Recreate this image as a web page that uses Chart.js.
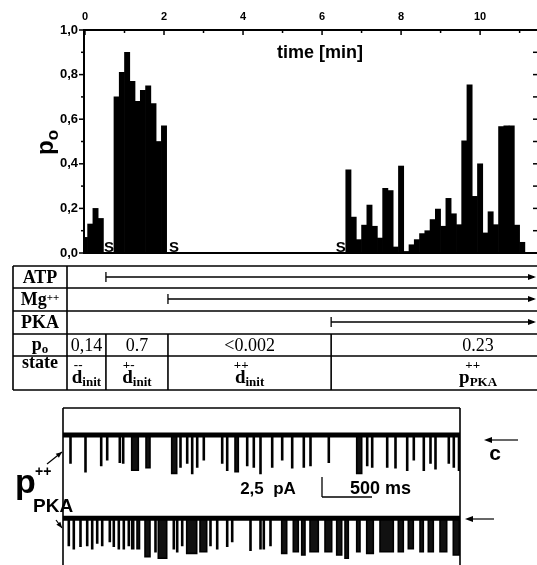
<!DOCTYPE html>
<html><head><meta charset="utf-8">
<script src="https://cdn.jsdelivr.net/npm/chart.js@4.4.0/dist/chart.umd.min.js"></script>
<style>
html,body{margin:0;padding:0;background:#fff;width:537px;height:565px;overflow:hidden;}
canvas{position:absolute;left:0;display:block;}
#c1{top:0;} #c2{top:400px;}
</style></head><body>
<canvas id="c1" width="537" height="400"></canvas>
<canvas id="c2" width="537" height="165"></canvas>
<script>
// ---------- data ----------
const binMinutes = 8 / 60;               // width of one analysis bin (8 s)
const poValues = [
  0.07, 0.13, 0.20, 0.155, 0, 0,
  0.70, 0.81, 0.90, 0.77, 0.68, 0.73, 0.75, 0.67, 0.50, 0.57,
  0,0,0,0,0,0,0,0,0,0, 0,0,0,0,0,0,0,0,0,0, 0,0,0,0,0,0,0,0,0,0, 0,0,0,0,
  0.373, 0.161, 0.06, 0.125, 0.215, 0.12, 0.067, 0.29, 0.28, 0.027,
  0.39, 0.007, 0.037, 0.06, 0.087, 0.10, 0.15, 0.197, 0.12, 0.245,
  0.176, 0.127, 0.503, 0.754, 0.254, 0.40, 0.09, 0.185, 0.127, 0.567,
  0.57, 0.57, 0.125, 0.048
];
const timeTickLabels = [0, 2, 4, 6, 8, 10];
const yTickLabels = ['0,0', '0,2', '0,4', '0,6', '0,8', '1,0'];
const solutionMarks = [0.61, 2.25, 6.47];          // "S" marks (min)
const additionNames = ['ATP', 'Mg', 'PKA'];
const additionTimes = [0.53, 2.10, 6.23];          // arrows start (min)
const poTableValues = ['0,14', '0.7', '<0.002', '0.23'];
const stateBase = ['d', 'd', 'd', 'p'];
const stateSup = ['--', '+-', '++', '++'];
const stateSub = ['init', 'init', 'init', 'PKA'];

// single-channel traces: event start (ms), duration (ms), depth (pA)
const trace1Start = [70,220,377,437,563,597,687,830,1087,1170,1237,1287,1337,1403,1587,1637,1720,1837,1903,1970,2087,2187,2287,2403,2470,2653,2937,3037,3087,3237,3320,3437,3503,3603,3670,3720,3853,3903,3955];
const trace1Dur = [10,10,10,10,10,10,66,40,50,10, 10,10,10,10,10,10,33,10,10,10, 10,10,10,10,10,10,50,10,10,10, 10,10,10,10,10,10,10,10,10];
const trace1Depth = [3.5,4.6,3.8,3.1,3.4,3.5,4.4,4.1,4.8,4.0, 3.5,4.8,4.0,3.1,3.5,4.4,4.6,3.8,4.0,4.8, 4.0,3.1,4.1,4.0,3.8,3.4,4.8,3.8,4.0,4.0, 4.1,4.4,3.1,4.4,3.5,4.2,3.5,4.0,4.4];
const trace2Start = [53,103,170,237,287,337,387,463,503,553,603,653,687,740,820,920,953,1103,1137,1187,1237,1370,1470,1537,1637,1687,1870,1970,2003,2070,2187,2303,2387,2470,2620,2737,2820,2937,3037,3170,3353,3453,3570,3653,3770,3903];
const trace2Dur = [10,10,10,10,10,10,10,10,10,10, 10,10,20,25,50,10,84,10,10,10, 100,67,10,10,10,10,10,10,10,10, 50,50,33,83,67,50,33,33,66,133, 50,50,33,50,67,60];
const trace2Depth = [3.4,3.8,3.5,3.4,3.8,3.1,3.4,2.9,3.5,3.8, 3.8,3.4,3.8,3.8,4.8,4.2,5.0,3.8,4.2,3.4, 4.4,4.2,3.4,3.8,3.5,2.9,4.0,3.8,3.8,3.4, 4.4,4.2,4.6,4.2,4.2,4.6,5.0,4.2,4.4,4.2, 4.2,3.8,4.2,4.2,4.2,4.6];
const traceEnd = 3970;
const trace2Offset = -10.4;
const scaleBarMs = 500, scaleBarPA = 2.5;

// ---------- helpers ----------
const SANS = 'Liberation Sans', SERIF = 'Liberation Serif';
function ln(ctx, x1, y1, x2, y2) { ctx.beginPath(); ctx.moveTo(x1, y1); ctx.lineTo(x2, y2); ctx.stroke(); }
function arrowHead(ctx, x, y, dir, len, half) {
  ctx.beginPath(); ctx.moveTo(x, y); ctx.lineTo(x - dir * len, y - half); ctx.lineTo(x - dir * len, y + half); ctx.closePath(); ctx.fill();
}
function arrowTo(ctx, x1, y1, x2, y2, len, half) {
  ln(ctx, x1, y1, x2, y2);
  const a = Math.atan2(y2 - y1, x2 - x1);
  ctx.beginPath(); ctx.moveTo(x2, y2);
  ctx.lineTo(x2 - len * Math.cos(a) + half * Math.sin(a), y2 - len * Math.sin(a) - half * Math.cos(a));
  ctx.lineTo(x2 - len * Math.cos(a) - half * Math.sin(a), y2 - len * Math.sin(a) + half * Math.cos(a));
  ctx.closePath(); ctx.fill();
}
function text(ctx, s, x, y, font, align, base) {
  ctx.font = font; ctx.textAlign = align || 'center'; ctx.textBaseline = base || 'alphabetic'; ctx.fillText(s, x, y);
}

// ---------- chart 1: p_o histogram + table ----------
const decor1 = {
  id: 'decor1',
  afterDraw(chart) {
    const { ctx, chartArea: a, scales: { x, y } } = chart;
    ctx.save();
    ctx.strokeStyle = '#000'; ctx.fillStyle = '#000';
    // axes
    ctx.lineWidth = 2;
    ln(ctx, a.left, a.top - 1, a.left, a.bottom + 1);
    ln(ctx, a.left, a.top, a.right, a.top);
    ln(ctx, a.left, y.getPixelForValue(0), a.right, y.getPixelForValue(0));
    // y ticks
    ctx.lineWidth = 1.5;
    for (let i = 0; i <= 10; i++) {
      const py = y.getPixelForValue(i / 10);
      ln(ctx, a.left - (i % 2 === 0 ? 5 : 3), py, a.left, py);
      if (i > 0 && i < 10) ln(ctx, a.right - 4, py, a.right, py);
    }
    // x ticks (top, inward)
    for (let t = 0; t <= 11; t++) {
      const px = x.getPixelForValue(t);
      ln(ctx, px, a.top, px, a.top + (t % 2 === 0 ? 5 : 3));
    }
    // S marks
    solutionMarks.forEach(t => text(ctx, 'S', x.getPixelForValue(t), y.getPixelForValue(0) - 1, 'bold 15px ' + SANS, 'center', 'alphabetic'));
    // time label
    text(ctx, 'time [min]', 277, 58, 'bold 18px ' + SANS, 'left', 'alphabetic');
    // y title p_o
    ctx.save();
    ctx.translate(53, 143);
    ctx.rotate(-Math.PI / 2);
    ctx.font = 'bold 24px ' + SANS; ctx.textAlign = 'left'; ctx.textBaseline = 'alphabetic';
    const pw = ctx.measureText('p').width;
    ctx.fillText('p', -12, 0);
    ctx.font = 'bold 17px ' + SANS;
    ctx.fillText('o', -12 + pw, 5);
    ctx.restore();

    // ---- table ----
    const L = 13, C1 = 67, R = 537;
    const rows = [266, 288, 311, 334, 356, 390];
    ctx.lineWidth = 1.6;
    rows.forEach(ry => ln(ctx, L, ry, R, ry));
    ln(ctx, L, rows[0], L, rows[5]);
    ln(ctx, C1, rows[0], C1, rows[5]);
    const colX = additionTimes.map(t => x.getPixelForValue(t));
    colX.forEach(cx => ln(ctx, cx, rows[3], cx, rows[5]));
    // labels column
    const lc = (L + C1) / 2;
    text(ctx, 'ATP', lc, 283, 'bold 18px ' + SERIF);
    ctx.font = 'bold 18px ' + SERIF; const mgw = ctx.measureText('Mg').width;
    ctx.font = 'bold 11px ' + SERIF; const ppw = ctx.measureText('++').width;
    text(ctx, 'Mg', lc - (mgw + ppw) / 2, 305, 'bold 18px ' + SERIF, 'left');
    text(ctx, '++', lc - (mgw + ppw) / 2 + mgw, 301, 'bold 11px ' + SERIF, 'left');
    text(ctx, 'PKA', lc, 328, 'bold 18px ' + SERIF);
    ctx.font = 'bold 18px ' + SERIF; const pW = ctx.measureText('p').width;
    ctx.font = 'bold 13px ' + SERIF; const oW = ctx.measureText('o').width;
    text(ctx, 'p', lc - (pW + oW) / 2, 350, 'bold 18px ' + SERIF, 'left');
    text(ctx, 'o', lc - (pW + oW) / 2 + pW, 353, 'bold 13px ' + SERIF, 'left');
    text(ctx, 'state', lc, 368, 'bold 18px ' + SERIF);
    // arrows
    const arrowY = [277, 299, 322];
    ctx.lineWidth = 1.3;
    colX.forEach((cx, i) => {
      ln(ctx, cx, arrowY[i], R - 3, arrowY[i]);
      ln(ctx, cx, arrowY[i] - 5, cx, arrowY[i] + 5);
      arrowHead(ctx, R - 1, arrowY[i], 1, 8, 3);
    });
    // p_o values and states
    const cellL = [C1, colX[0], colX[1], colX[2]];
    const cellR = [colX[0], colX[1], colX[2], 625];
    poTableValues.forEach((v, i) => {
      const cx = (cellL[i] + cellR[i]) / 2;
      text(ctx, v, cx, 351, '18px ' + SERIF);
      ctx.font = 'bold 19px ' + SERIF; const bw = ctx.measureText(stateBase[i]).width;
      ctx.font = 'bold 13px ' + SERIF; const sw = ctx.measureText(stateSub[i]).width;
      const x0 = cx - (bw + sw) / 2;
      text(ctx, stateBase[i], x0, 383, 'bold 19px ' + SERIF, 'left');
      text(ctx, stateSub[i], x0 + bw, 386, 'bold 13px ' + SERIF, 'left');
      const supC = stateBase[i] === 'p' ? x0 + bw + 3 : x0 + bw * 0.6;
      text(ctx, stateSup[i], supC, 366, 'bold 13px ' + SERIF, 'center', 'middle');
    });
    ctx.restore();
  }
};

new Chart(document.getElementById('c1'), {
  type: 'bar',
  data: {
    datasets: [{
      data: poValues.map((v, i) => ({ x: i * binMinutes, y: v })),
      backgroundColor: '#000', borderWidth: 0,
      categoryPercentage: 1, barPercentage: 1
    }]
  },
  options: {
    responsive: false, animation: false,
    layout: { padding: { left: 0, right: 0, top: 0, bottom: 147 } },
    plugins: { legend: { display: false }, tooltip: { enabled: false } },
    scales: {
      x: {
        type: 'linear', position: 'top', min: -0.025, max: 11.44, offset: false,
        grid: { display: false, drawTicks: false }, border: { display: false },
        ticks: {
          stepSize: 2, includeBounds: false, color: '#000', padding: 6, maxRotation: 0, autoSkip: false,
          font: { family: SANS, weight: 'bold', size: 11 },
          callback: v => timeTickLabels.includes(v) ? String(v) : ''
        },
        afterFit: s => { s.height = 30; }
      },
      y: {
        min: 0, max: 1,
        grid: { display: false, drawTicks: false }, border: { display: false },
        ticks: {
          stepSize: 0.2, color: '#000', padding: 6,
          font: { family: SANS, weight: 'bold', size: 13 },
          callback: v => yTickLabels[Math.round(v / 0.2)]
        },
        afterFit: s => { s.width = 84; }
      }
    }
  },
  plugins: [decor1]
});

// ---------- chart 2: current traces ----------
function buildTrace(starts, durs, depths, offset) {
  const pts = [{ x: 0, y: offset }];
  starts.forEach((s, i) => {
    const e = s + durs[i], d = offset - depths[i];
    pts.push({ x: s, y: offset }, { x: s, y: d }, { x: e, y: d }, { x: e, y: offset });
  });
  pts.push({ x: traceEnd, y: offset });
  return pts;
}
const bandStyle = { borderColor: '#000', borderWidth: 5, pointRadius: 0, tension: 0 };
const lineStyle = { borderColor: '#000', borderWidth: 1.6, pointRadius: 0, tension: 0, backgroundColor: '#111' };

const decor2 = {
  id: 'decor2',
  afterDraw(chart) {
    const { ctx, chartArea: a, scales: { x, y } } = chart;
    ctx.save();
    ctx.strokeStyle = '#000'; ctx.fillStyle = '#000';
    ctx.lineWidth = 1.6;
    ln(ctx, a.left, a.top, a.left, a.bottom + 2);
    ln(ctx, a.left, a.top, a.right, a.top);
    ln(ctx, a.right, a.top, a.right, a.bottom + 2);
    // scale bar
    const sx = x.getPixelForValue(2590), sy = y.getPixelForValue(-7.75);
    ctx.lineWidth = 1.3;
    ln(ctx, sx, sy, x.getPixelForValue(2590 + scaleBarMs), sy);
    ln(ctx, sx, sy, sx, y.getPixelForValue(-7.75 + scaleBarPA));
    text(ctx, '2,5  pA', 268, 89, 'bold 17px ' + SANS, 'center', 'middle');
    text(ctx, '500 ms', 350, 89, 'bold 18px ' + SANS, 'left', 'middle');
    // left labels
    text(ctx, 'p', 15, 93, 'bold 34px ' + SANS, 'left', 'alphabetic');
    text(ctx, '++', 35, 72, 'bold 14px ' + SANS, 'left', 'middle');
    text(ctx, 'PKA', 33, 107, 'bold 19px ' + SANS, 'left', 'middle');
    ctx.lineWidth = 1.2;
    arrowTo(ctx, 47, 64, 62, 52, 6, 2.5);
    arrowTo(ctx, 56, 120, 62, 128, 6, 2.5);
    // right: closed level arrows
    ln(ctx, 487, 40, 518, 40);
    arrowHead(ctx, 484, 40, -1, 8, 3);
    text(ctx, 'c', 495, 54, 'bold 21px ' + SANS, 'center', 'middle');
    ln(ctx, 468, 119, 494, 119);
    arrowHead(ctx, 465, 119, -1, 8, 3);
    ctx.restore();
  }
};

new Chart(document.getElementById('c2'), {
  type: 'line',
  data: {
    datasets: [
      Object.assign({ data: [{ x: 0, y: 0 }, { x: traceEnd, y: 0 }] }, bandStyle),
      Object.assign({ data: buildTrace(trace1Start, trace1Dur, trace1Depth, 0), fill: { value: 0 } }, lineStyle),
      Object.assign({ data: [{ x: 0, y: trace2Offset }, { x: traceEnd, y: trace2Offset }] }, bandStyle),
      Object.assign({ data: buildTrace(trace2Start, trace2Dur, trace2Depth, trace2Offset), fill: { value: trace2Offset } }, lineStyle)
    ]
  },
  options: {
    responsive: false, animation: false,
    layout: { padding: { left: 63, right: 77, top: 8, bottom: 0 } },
    plugins: { legend: { display: false }, tooltip: { enabled: false } },
    scales: {
      x: { type: 'linear', min: 0, max: traceEnd, display: false },
      y: { min: -16.25, max: 3.375, display: false }
    }
  },
  plugins: [decor2]
});
</script>
</body></html>
